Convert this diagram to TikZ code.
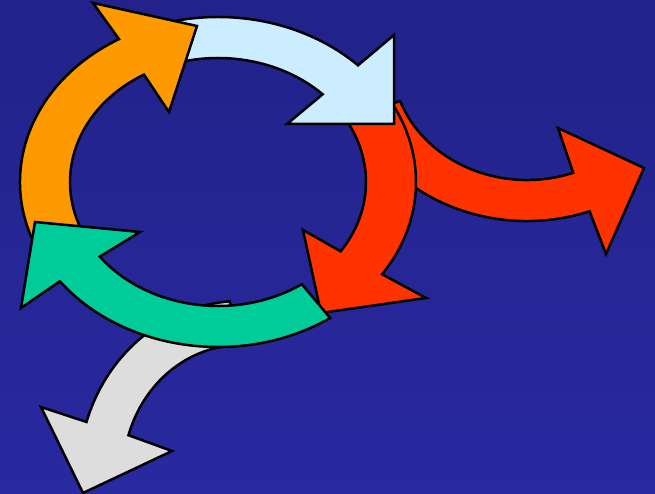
\documentclass[tikz,border=0pt]{standalone}
\usetikzlibrary{calc}
\definecolor{bgtop}{RGB}{34,34,138}
\definecolor{bgbot}{RGB}{41,41,160}
\definecolor{aorange}{RGB}{255,153,0}
\definecolor{ablue}{RGB}{204,236,255}
\definecolor{ared}{RGB}{255,51,0}
\definecolor{agreen}{RGB}{0,204,153}
\definecolor{agrey}{RGB}{221,221,221}
\begin{document}
\begin{tikzpicture}[x=1pt,y=-1pt,
  arrowshape/.style={draw=black, line width=2.5pt, line join=miter}]
\shade[top color=bgtop, bottom color=bgbot] (0,0) rectangle (655,494);
\useasboundingbox (0,0) rectangle (655,494);
\coordinate (C) at (218,182);
\coordinate (G) at (241,474);
\coordinate (R) at (527,60);
% grey arrow (down-left)
\path[arrowshape, fill=agrey]
  ($(G)+(266:162 and 173)$) arc[start angle=266, end angle=197.5, x radius=162, y radius=173]
  -- (41,407) -- (83,493) -- (172,451)
  -- ($(G)+(197.5:118 and 129)$) arc[start angle=197.5, end angle=270, x radius=118, y radius=129]
  -- cycle;
% red arrow (right)
\path[arrowshape, fill=ared]
  ($(R)+(160:135 and 120)$) arc[start angle=160, end angle=70, x radius=135, y radius=120]
  -- (558,128) -- (644,168) -- (606,254)
  -- ($(R)+(70:183 and 161)$) arc[start angle=70, end angle=160, x radius=183, y radius=161]
  -- cycle;
% red arrow (down)
\path[arrowshape, fill=ared]
  ($(C)+(320:198 and 165)$) arc[start angle=320, end angle=394, x radius=198, y radius=165]
  -- (426,298) -- (321,313) -- (303,230)
  -- ($(C)+(394:148 and 124)$) arc[start angle=394, end angle=320, x radius=148, y radius=124]
  -- cycle;
% light blue arrow
\path[arrowshape, fill=ablue]
  ($(C)+(252:198 and 165)$) arc[start angle=252, end angle=315, x radius=198, y radius=165]
  -- (394,35) -- (394,124) -- (287,124)
  -- ($(C)+(315:148 and 124)$) arc[start angle=315, end angle=252, x radius=148, y radius=124]
  -- cycle;
% orange arrow
\path[arrowshape, fill=aorange]
  ($(C)+(155:198 and 165)$) arc[start angle=155, end angle=240, x radius=198, y radius=165]
  -- (93,3) -- (197,26) -- (169,112)
  -- ($(C)+(240:148 and 124)$) arc[start angle=240, end angle=155, x radius=148, y radius=124]
  -- cycle;
% green arrow
\path[arrowshape, fill=agreen]
  ($(C)+(55.5:198 and 165)$) arc[start angle=55.5, end angle=143, x radius=198, y radius=165]
  -- (21,308) -- (35,222) -- (140,232)
  -- ($(C)+(143:148 and 124)$) arc[start angle=143, end angle=55.5, x radius=148, y radius=124]
  -- cycle;
\end{tikzpicture}
\end{document}
